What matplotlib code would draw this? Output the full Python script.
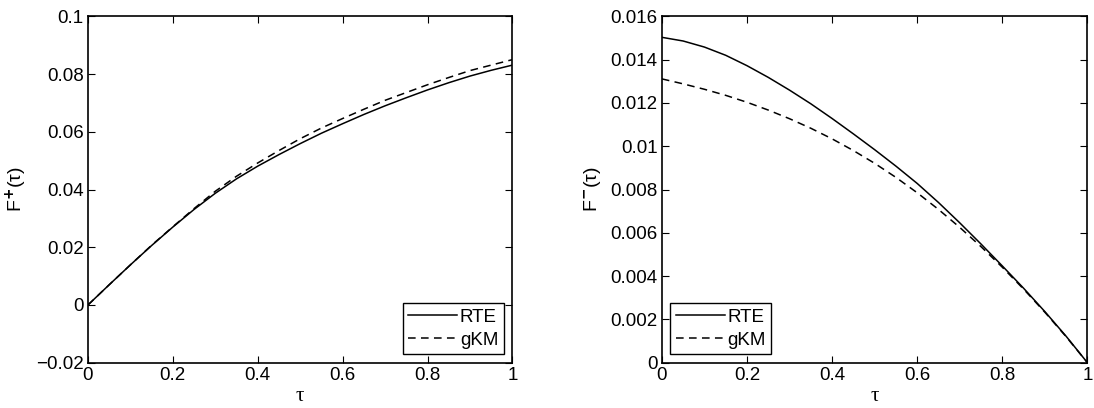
import numpy as np
import matplotlib.pyplot as plt

plt.rcParams['font.family'] = ['Liberation Sans', 'DejaVu Sans']
plt.rcParams['mathtext.fontset'] = 'custom'
plt.rcParams['mathtext.rm'] = 'Liberation Sans'

# ---- data (tau step 0.05) ----
tau = [0.0, 0.05, 0.1, 0.15, 0.2, 0.25, 0.3, 0.35, 0.4, 0.45, 0.5,
       0.55, 0.6, 0.65, 0.7, 0.75, 0.8, 0.85, 0.9, 0.95, 1.0]

fplus_rte = [0.0, 0.0070, 0.0139, 0.0206, 0.0270, 0.0331, 0.0387, 0.0437,
             0.0481, 0.0521, 0.0559, 0.0595, 0.0628, 0.0660, 0.0690, 0.0718,
             0.0745, 0.0770, 0.0793, 0.0813, 0.0831]
fplus_gkm = [0.0, 0.0070, 0.0139, 0.0207, 0.0271, 0.0334, 0.0394, 0.0446,
             0.0492, 0.0535, 0.0576, 0.0613, 0.0646, 0.0678, 0.0709, 0.0736,
             0.0763, 0.0788, 0.0812, 0.0831, 0.0850]

fminus_rte = [0.01503, 0.01486, 0.01458, 0.01420, 0.01372, 0.01318, 0.01259,
              0.01196, 0.01128, 0.01057, 0.00984, 0.00908, 0.00828, 0.00740,
              0.00646, 0.00548, 0.00447, 0.00344, 0.00236, 0.00122, 0.0]
fminus_gkm = [0.01311, 0.01288, 0.01263, 0.01235, 0.01203, 0.01167, 0.01127,
              0.01083, 0.01034, 0.00980, 0.00921, 0.00856, 0.00785, 0.00708,
              0.00625, 0.00536, 0.00441, 0.00340, 0.00233, 0.00120, 0.0]

labels = ['RTE', 'gKM']

fig = plt.figure(figsize=(10.94, 4.08), dpi=100)
ax1 = fig.add_axes([0.0804, 0.111, 0.388, 0.849])
ax2 = fig.add_axes([0.605, 0.111, 0.389, 0.849])


def style(ax):
    ax.tick_params(direction='in', top=True, right=True, length=5,
                   width=0.8, labelsize=13.5, pad=3)
    for s in ax.spines.values():
        s.set_linewidth(1.2)
    ax.set_xlim(0, 1)
    ax.set_xticks([0, 0.2, 0.4, 0.6, 0.8, 1])
    ax.set_xticklabels(['0', '0.2', '0.4', '0.6', '0.8', '1'])
    ax.set_xlabel('τ', fontsize=15, family='Liberation Serif', labelpad=2)


# left panel
ax1.plot(tau, fplus_rte, 'k-', lw=1.1, label=labels[0])
ax1.plot(tau, fplus_gkm, 'k--', lw=1.1, label=labels[1], dashes=(5, 3.5))
style(ax1)
ax1.set_ylim(-0.02, 0.1)
ax1.set_yticks([-0.02, 0, 0.02, 0.04, 0.06, 0.08, 0.1])
ax1.set_yticklabels(['\u22120.02', '0', '0.02', '0.04', '0.06', '0.08', '0.1'])
ax1.set_ylabel('F$^{\\mathbf{+}}$(τ)', fontsize=14, labelpad=5)

# right panel
ax2.plot(tau, fminus_rte, 'k-', lw=1.1, label=labels[0])
ax2.plot(tau, fminus_gkm, 'k--', lw=1.1, label=labels[1], dashes=(5, 3.5))
style(ax2)
ax2.set_ylim(0, 0.016)
ax2.set_yticks([0, 0.002, 0.004, 0.006, 0.008, 0.01, 0.012, 0.014, 0.016])
ax2.set_yticklabels(['0', '0.002', '0.004', '0.006', '0.008', '0.01',
                     '0.012', '0.014', '0.016'])
ax2.set_ylabel('F$^{\\mathbf{-}}$(τ)', fontsize=14, labelpad=5)

for ax, loc in [(ax1, 'lower right'), (ax2, 'lower left')]:
    leg = ax.legend(loc=loc, fontsize=13.5, fancybox=False, framealpha=1,
                    edgecolor='black', borderaxespad=0.45, handlelength=2.6,
                    handletextpad=0.15, borderpad=0.3, labelspacing=0.3)
    leg.get_frame().set_linewidth(1.0)

fig.savefig('out.png', dpi=100)
